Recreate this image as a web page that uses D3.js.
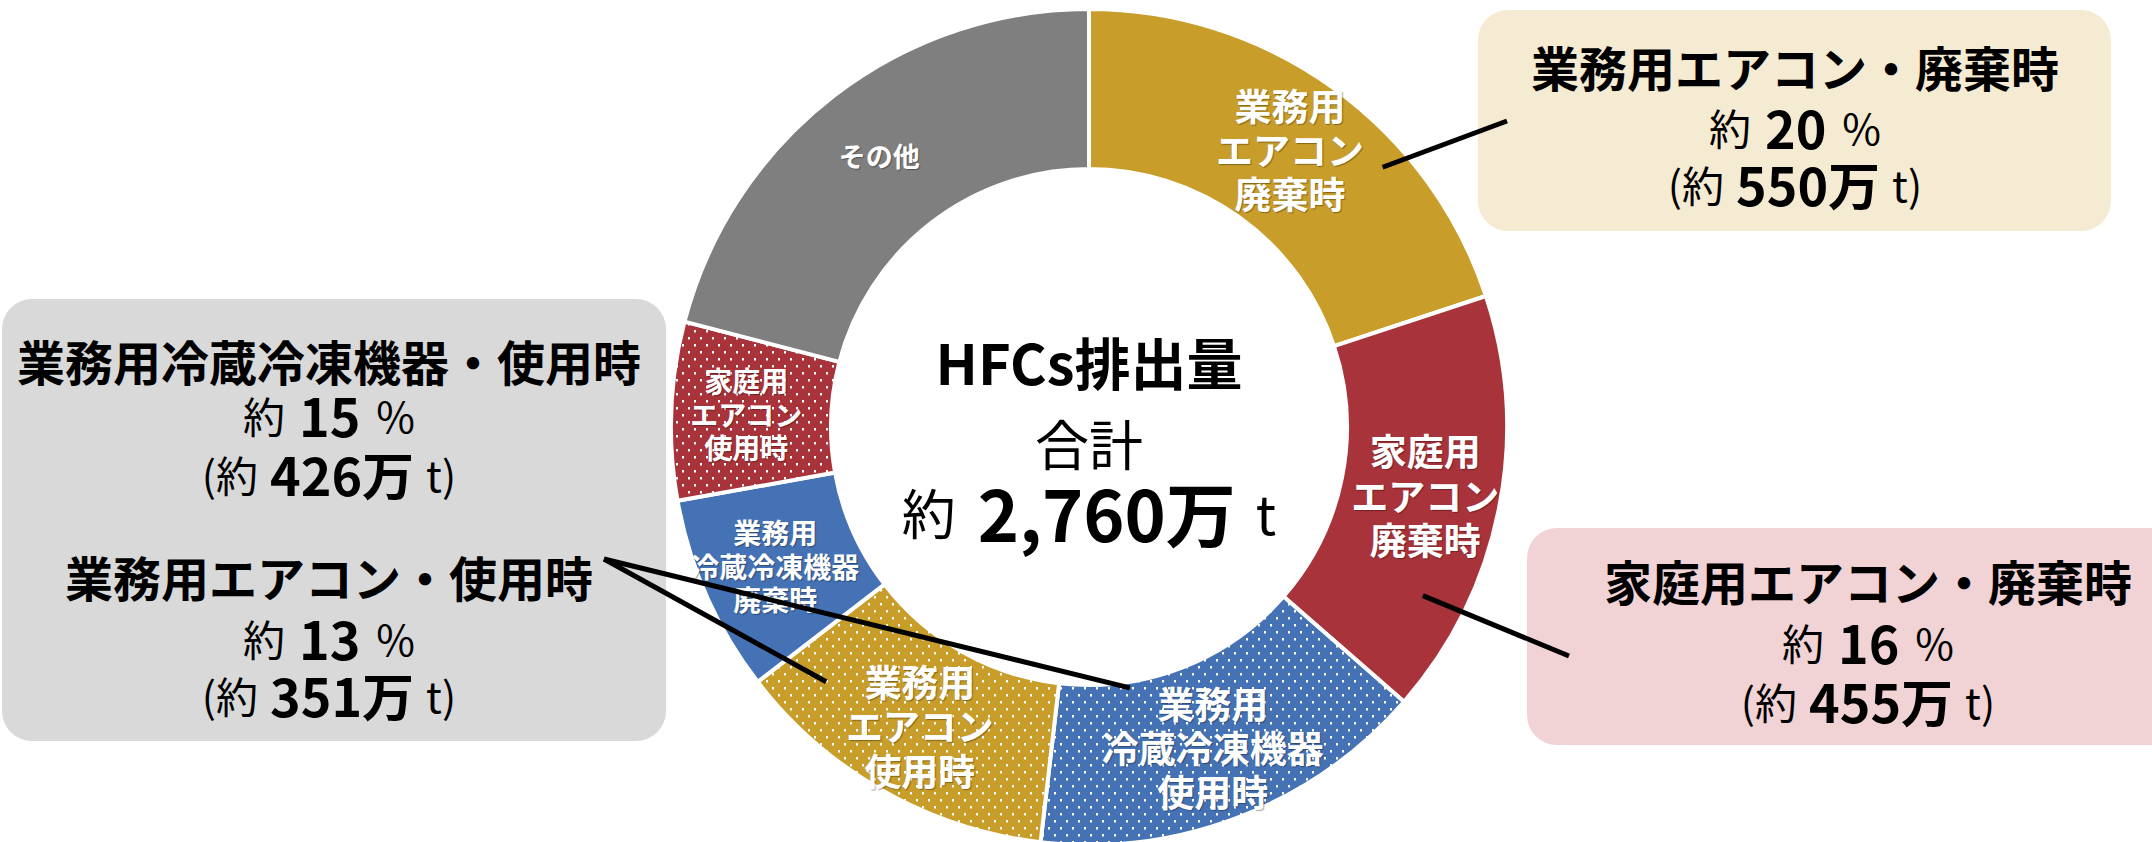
<!DOCTYPE html>
<html>
<head>
<meta charset="utf-8">
<script src="https://cdn.jsdelivr.net/npm/d3@7"></script>
<style>
  body { margin: 0; background: #fff; }
  svg { display: block; font-family: "Noto Sans CJK JP", "Noto Sans", sans-serif; }
  .sliceLabel { fill: #fff; font-weight: bold; text-shadow: 1px 1px 1px rgba(0,0,0,0.35); }
</style>
</head>
<body>
<svg id="chart"></svg>
<script>
// HFCs emissions by source (10,000 t units)
const categories = [
  "業務用エアコン廃棄時",
  "家庭用エアコン廃棄時",
  "業務用冷蔵冷凍機器使用時",
  "業務用エアコン使用時",
  "業務用冷蔵冷凍機器廃棄時",
  "家庭用エアコン使用時",
  "その他"
];
const values = [550, 455, 426, 351, 210, 190, 578];

const sliceLabels = [
  ["業務用", "エアコン", "廃棄時"],
  ["家庭用", "エアコン", "廃棄時"],
  ["業務用", "冷蔵冷凍機器", "使用時"],
  ["業務用", "エアコン", "使用時"],
  ["業務用", "冷蔵冷凍機器", "廃棄時"],
  ["家庭用", "エアコン", "使用時"],
  ["その他"]
];

const calloutTitles = [
  "業務用エアコン・廃棄時",
  "家庭用エアコン・廃棄時",
  "業務用冷蔵冷凍機器・使用時",
  "業務用エアコン・使用時"
];

// styles kept apart from the data
const sliceColors = ["#C89D29", "#A9333A", "#4472B5", "#C89D29", "#4472B5", "#A9333A", "#7F7F7F"];
const sliceDotted = [false, false, true, true, false, true, false];
const sliceFont = [37, 37, 37, 37, 28, 28, 27];

const width = 2152, height = 842;
const cx = 1089, cy = 427, rOuter = 418, rInner = 258, rLabel = 343;

const svg = d3.select("#chart").attr("width", width).attr("height", height);

// dot patterns
const defs = svg.append("defs");
sliceColors.forEach((c, i) => {
  if (!sliceDotted[i]) return;
  const p = defs.append("pattern")
    .attr("id", "dots" + i)
    .attr("patternUnits", "userSpaceOnUse")
    .attr("width", 12)
    .attr("height", 14);
  p.append("rect").attr("width", 12).attr("height", 14).attr("fill", c);
  p.append("rect").attr("x", 1).attr("y", 1).attr("width", 2).attr("height", 2.5).attr("fill", "#fff");
  p.append("rect").attr("x", 7).attr("y", 8).attr("width", 2).attr("height", 2.5).attr("fill", "#fff");
});

const deg = Math.PI / 180;
const polar = (angleDeg, r) => [cx + r * Math.sin(angleDeg * deg), cy - r * Math.cos(angleDeg * deg)];

// boxes (drawn first, under the donut)
const boxes = [
  { x: 1478, y: 10, w: 633, h: 221, fill: "#F5EBD3" },
  { x: 1527, y: 528, w: 680, h: 217, fill: "#F1D3D5" },
  { x: 2, y: 299, w: 664, h: 442, fill: "#D9D9D9" }
];
svg.selectAll("rect.box")
  .data(boxes)
  .enter()
  .append("rect")
  .attr("class", "box")
  .attr("x", d => d.x)
  .attr("y", d => d.y)
  .attr("width", d => d.w)
  .attr("height", d => d.h)
  .attr("rx", 30)
  .attr("fill", d => d.fill);

// donut
const pie = d3.pie().sort(null).value(d => d);
const arcs = pie(values);
const arc = d3.arc().innerRadius(rInner).outerRadius(rOuter);
const labelArc = d3.arc().innerRadius(rLabel).outerRadius(rLabel);

const g = svg.append("g").attr("transform", `translate(${cx},${cy})`);

g.selectAll("path.slice")
  .data(arcs)
  .enter()
  .append("path")
  .attr("class", "slice")
  .attr("d", arc)
  .attr("fill", (d, i) => sliceDotted[i] ? `url(#dots${i})` : sliceColors[i])
  .attr("stroke", "#fff")
  .attr("stroke-width", 4)
  .attr("stroke-linejoin", "round");

// slice labels
arcs.forEach((d, i) => {
  const [x, y] = labelArc.centroid(d);
  const lines = sliceLabels[i];
  const fs = sliceFont[i];
  const lh = fs * 1.2;
  const t = g.append("text")
    .attr("class", "sliceLabel")
    .attr("text-anchor", "middle")
    .attr("font-size", fs);
  lines.forEach((s, k) => {
    t.append("tspan")
      .attr("x", x)
      .attr("y", y + (k - (lines.length - 1) / 2) * lh)
      .attr("dominant-baseline", "central")
      .text(s);
  });
});

// centre text
const total = d3.sum(values);
svg.append("text")
  .attr("x", cx).attr("y", 360)
  .attr("text-anchor", "middle").attr("dominant-baseline", "central")
  .attr("font-size", 56).attr("font-weight", "bold")
  .text("HFCs排出量");
svg.append("text")
  .attr("x", cx).attr("y", 442)
  .attr("text-anchor", "middle").attr("dominant-baseline", "central")
  .attr("font-size", 54)
  .text("合計");
const tot = svg.append("text")
  .attr("x", cx).attr("y", 511)
  .attr("text-anchor", "middle").attr("dominant-baseline", "central")
  .attr("font-size", 54);
tot.append("tspan").text("約");
tot.append("tspan").attr("dx", 22).attr("font-size", 70).attr("font-weight", "bold").text(d3.format(",")(total) + "万");
tot.append("tspan").attr("dx", 20).text("t");

// callouts
const callouts = [
  { x: 1795, ys: [66, 126, 183] },
  { x: 1868, ys: [580, 641, 700] },
  { x: 329, ys: [360, 414, 473] },
  { x: 329, ys: [576, 637, 694] }
];
callouts.forEach((c, i) => {
  svg.append("text")
    .attr("x", c.x).attr("y", c.ys[0])
    .attr("text-anchor", "middle").attr("dominant-baseline", "central")
    .attr("font-size", 48).attr("font-weight", "bold")
    .text(calloutTitles[i]);

  const pct = svg.append("text")
    .attr("x", c.x).attr("y", c.ys[1])
    .attr("text-anchor", "middle").attr("dominant-baseline", "central")
    .attr("font-size", 42);
  pct.append("tspan").text("約");
  pct.append("tspan").attr("dx", 14).attr("font-size", 52).attr("font-weight", "bold")
    .text(Math.round(values[i] / total * 100));
  pct.append("tspan").attr("dx", 16).text("%");

  const amt = svg.append("text")
    .attr("x", c.x).attr("y", c.ys[2])
    .attr("text-anchor", "middle").attr("dominant-baseline", "central")
    .attr("font-size", 42);
  amt.append("tspan").text("(約");
  amt.append("tspan").attr("dx", 12).attr("font-size", 52).attr("font-weight", "bold").text(values[i] + "万");
  amt.append("tspan").attr("dx", 12).text("t)");
});

// leader lines
const leaders = [
  { from: polar(48.5, 392), to: [1507, 121] },
  { from: polar(116.8, 374), to: [1569, 656] },
  { from: [604, 559], to: polar(225.9, 366) },
  { from: [604, 559], to: polar(171.1, 264) }
];
svg.selectAll("line.leader")
  .data(leaders)
  .enter()
  .append("line")
  .attr("class", "leader")
  .attr("x1", d => d.from[0])
  .attr("y1", d => d.from[1])
  .attr("x2", d => d.to[0])
  .attr("y2", d => d.to[1])
  .attr("stroke", "#000")
  .attr("stroke-width", 5);
</script>
</body>
</html>
